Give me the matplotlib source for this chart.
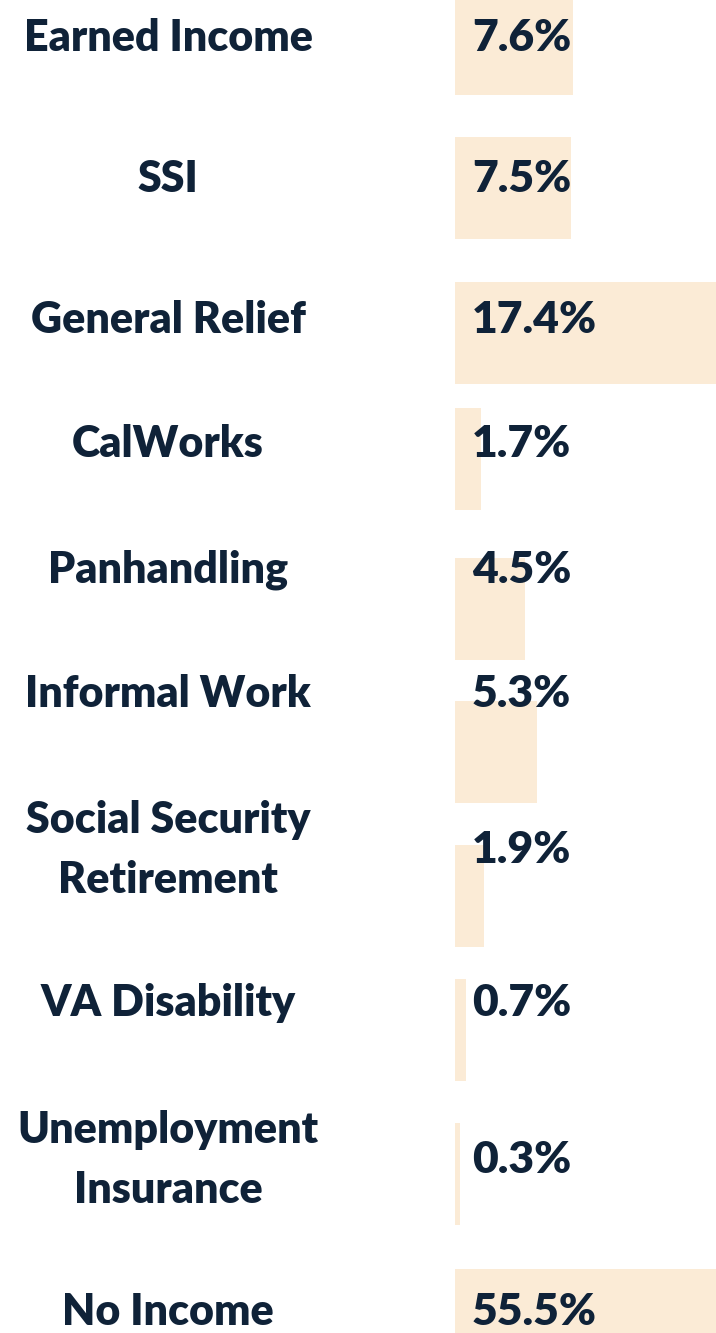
import matplotlib
matplotlib.use("Agg")
import matplotlib.pyplot as plt
from matplotlib.transforms import blended_transform_factory

# income sources and share of respondents (%)
categories = [
    "Earned Income",
    "SSI",
    "General Relief",
    "CalWorks",
    "Panhandling",
    "Informal Work",
    "Social Security\nRetirement",
    "VA Disability",
    "Unemployment\nInsurance",
    "No Income",
]
shares = [7.6, 7.5, 17.4, 1.7, 4.5, 5.3, 1.9, 0.7, 0.3, 55.5]

# layout (pixels from the top of the figure)
bar_centers = [44, 188, 333, 459, 609, 752, 896, 1030, 1174, 1320]
label_centers = [38, 179, 320, 444, 570, 694, 850, 1003, 1160, 1312]
BAR_H = 102
PX_PER_PCT = 15.5
W, H = 716, 1333
BAR_X0 = 455

NAVY = "#0F2238"
CREAM = "#FBEBD6"

plt.rcParams["font.family"] = ["Lato", "DejaVu Sans"]

fig = plt.figure(figsize=(W / 100, H / 100), dpi=100)
ax = fig.add_axes([BAR_X0 / W, 0, (W - BAR_X0) / W, 1])
ax.set_xlim(0, (W - BAR_X0) / PX_PER_PCT)
ax.set_ylim(H, 0)
ax.axis("off")

ax.barh(bar_centers, shares, height=BAR_H, color=CREAM, linewidth=0)

for v, y in zip(shares, label_centers):
    ax.text(17 / PX_PER_PCT, y, f"{v}%", color=NAVY, fontsize=32,
            fontweight="heavy", ha="left", va="center")

left = blended_transform_factory(fig.transFigure, ax.transData)
for name, y in zip(categories, label_centers):
    ax.text(168 / W, y, name, transform=left, color=NAVY, fontsize=31,
            fontweight="heavy", ha="center", va="center", linespacing=1.6,
            clip_on=False)

fig.savefig("out.png", dpi=100)
